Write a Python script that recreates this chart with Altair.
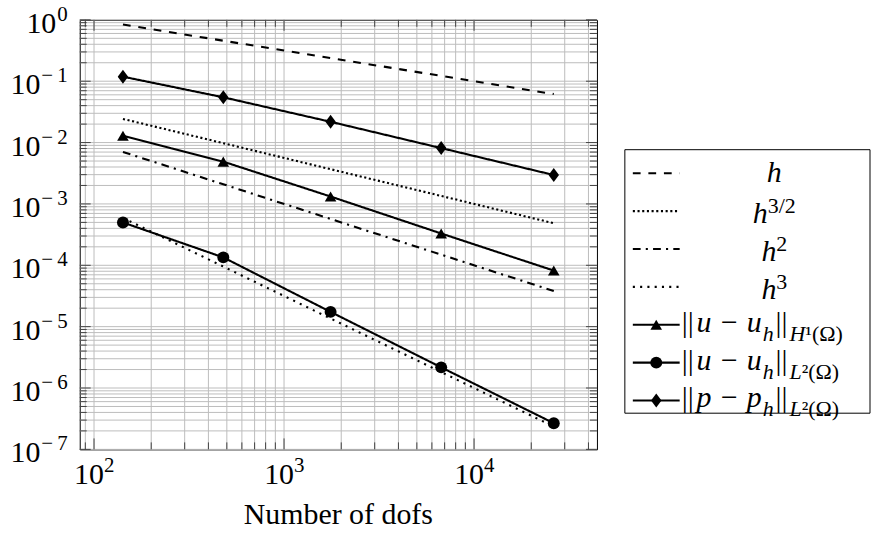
import altair as alt
import pandas as pd

# Degrees of freedom on each refinement level
dofs = [142, 479, 1758, 6714, 26270]

# Measured errors
err_u_h1 = [1.29e-2, 4.89e-3, 1.32e-3, 3.3e-4, 8.2e-5]
err_u_l2 = [4.99e-4, 1.345e-4, 1.74e-5, 2.17e-6, 2.67e-7]
err_p_l2 = [1.186e-1, 5.47e-2, 2.18e-2, 8.13e-3, 2.96e-3]

# Reference convergence rates
ref_h = [0.839, 0.457, 0.2385, 0.122, 0.0617]
ref_h32 = [2.43e-2, 9.77e-3, 3.68e-3, 1.35e-3, 4.84e-4]
ref_h2 = [7.04e-3, 2.09e-3, 5.69e-4, 1.49e-4, 3.81e-5]
ref_h3 = [5.91e-4, 9.54e-5, 1.357e-5, 1.82e-6, 2.35e-7]

# Tick labels
x_decades = [100, 1000, 10000]
x_exponents = ["2", "3", "4"]
y_decades = [1.0, 1e-1, 1e-2, 1e-3, 1e-4, 1e-5, 1e-6, 1e-7]
y_exponents = ["0", "−\u20091", "−\u20092", "−\u20093", "−\u20094",
               "−\u20095", "−\u20096", "−\u20097"]
x_title = "Number of dofs"

SERIES = ["h", "h32", "h2", "h3", "uH1", "uL2", "pL2"]
VALUES = [ref_h, ref_h32, ref_h2, ref_h3, err_u_h1, err_u_l2, err_p_l2]
DASHES = [[7.8, 7.8], [2.1, 2.6], [7.8, 5.2, 2.1, 5.2], [2.1, 5.2],
          [1, 0], [1, 0], [1, 0]]

W, H = 519, 431
LW, LH = 246, 431
FONT = "Liberation Serif, DejaVu Serif, serif"
FS, FS_SUB = 30, 22
GRID = "#bdbdbd"
LINE_W = 2.1
DIAMOND = "M0,-1L0.75,0L0,1L-0.75,0Z"

rows = []
for name, vals in zip(SERIES, VALUES):
    for d, v in zip(dofs, vals):
        rows.append({"series": name, "dofs": d, "value": v})
df = pd.DataFrame(rows)

xs = alt.Scale(type="log", domain=[84.1, 44330], nice=False)
ys = alt.Scale(type="log", domain=[1e-7, 1.0], nice=False)
dash_scale = alt.Scale(domain=SERIES, range=DASHES)

x_grid = [k * 10 ** e for e in range(1, 5) for k in range(1, 10)
          if 84.1 <= k * 10 ** e <= 44330]
y_grid = [k * 10.0 ** e for e in range(-7, 1) for k in range(1, 10)
          if k * 10.0 ** e <= 1.0001]


def X(field):
    return alt.X(field, type="quantitative", scale=xs, axis=None)


def Y(field):
    return alt.Y(field, type="quantitative", scale=ys, axis=None)


# ---- log grid (major and minor lines) ----
gx = alt.Chart(pd.DataFrame({"v": x_grid})).mark_rule(
    color=GRID, strokeWidth=1).encode(x=X("v"), y=alt.value(0), y2=alt.value(H))
gy = alt.Chart(pd.DataFrame({"v": y_grid})).mark_rule(
    color=GRID, strokeWidth=1).encode(y=Y("v"), x=alt.value(0), x2=alt.value(W))

# ---- inward tick marks on all four sides ----
x_major = pd.DataFrame({"v": x_decades})
x_minor = pd.DataFrame({"v": [v for v in x_grid if v not in x_decades]})
y_major = pd.DataFrame({"v": y_decades})
y_minor = pd.DataFrame({"v": [v for v in y_grid
                              if all(abs(v - d) > d * 1e-6 for d in y_decades)]})


def x_ticks(data, length):
    base = alt.Chart(data).mark_rule(color="#333", strokeWidth=0.9)
    return [base.encode(x=X("v"), y=alt.value(H), y2=alt.value(H - length)),
            base.encode(x=X("v"), y=alt.value(0), y2=alt.value(length))]


def y_ticks(data, length):
    base = alt.Chart(data).mark_rule(color="#333", strokeWidth=0.9)
    return [base.encode(y=Y("v"), x=alt.value(0), x2=alt.value(length)),
            base.encode(y=Y("v"), x=alt.value(W), x2=alt.value(W - length))]


ticks = (x_ticks(x_major, 11) + x_ticks(x_minor, 7)
         + y_ticks(y_major, 11) + y_ticks(y_minor, 7))

lines = alt.Chart(df).mark_line(color="black", strokeWidth=LINE_W,
                                strokeCap="butt").encode(
    x=X("dofs"), y=Y("value"),
    detail="series:N",
    strokeDash=alt.StrokeDash("series:N", scale=dash_scale, legend=None),
)


def markers(name, shape, size):
    return alt.Chart(df[df.series == name]).mark_point(
        shape=shape, size=size, filled=True, color="black", opacity=1
    ).encode(x=X("dofs"), y=Y("value"))


marks = [markers("uH1", "triangle-up", 135),
         markers("uL2", "circle", 144),
         markers("pL2", DIAMOND, 196)]

# ---- tick labels 10^k and axis title ----
xl = pd.DataFrame({"v": x_decades, "base": ["10"] * 3, "exp": x_exponents})
x_labels = [
    alt.Chart(xl).mark_text(align="right", baseline="alphabetic", dx=10,
                            font=FONT, fontSize=FS, color="black").encode(
        x=X("v"), y=alt.value(H + 35), text="base:N"),
    alt.Chart(xl).mark_text(align="left", baseline="alphabetic", dx=10,
                            font=FONT, fontSize=FS_SUB - 1, color="black").encode(
        x=X("v"), y=alt.value(H + 23), text="exp:N"),
]

yl = pd.DataFrame({"v": y_decades, "base": ["10"] * 8, "exp": y_exponents})
y_labels = []
for part, base_right in [(yl.iloc[:1], -23.5), (yl.iloc[1:], -39.5)]:
    y_labels.append(
        alt.Chart(part).mark_text(align="right", baseline="alphabetic", dy=13,
                                  font=FONT, fontSize=FS, color="black").encode(
            x=alt.value(base_right), y=Y("v"), text="base:N"))
    y_labels.append(
        alt.Chart(part).mark_text(align="right", baseline="alphabetic", dy=1,
                                  font=FONT, fontSize=FS_SUB - 1,
                                  color="black").encode(
            x=alt.value(-12), y=Y("v"), text="exp:N"))

title = alt.Chart(pd.DataFrame({"t": [x_title]})).mark_text(
    align="center", baseline="alphabetic", font=FONT, fontSize=FS,
    color="black").encode(x=alt.value(W / 2), y=alt.value(H + 75), text="t:N")

main = alt.layer(gx, gy, *ticks, lines, *marks, *x_labels, *y_labels,
                 title).properties(
    width=W, height=H, view=alt.ViewBackground(stroke="black", strokeWidth=1))

# ---- legend ----
ly = alt.Scale(domain=[-4.05, 7.29], reverse=True, nice=False, zero=False)
leg = pd.DataFrame({"row": list(range(7)), "series": SERIES})


def LY():
    return alt.Y("row:Q", scale=ly, axis=None)


box = alt.Chart(pd.DataFrame({"k": [0]})).mark_rect(
    fill="white", stroke="black", strokeWidth=1).encode(
    x=alt.value(0), x2=alt.value(LW), y=alt.value(130.3), y2=alt.value(394.7))

leg_lines = alt.Chart(leg).mark_rule(color="black", strokeWidth=LINE_W,
                                     strokeCap="butt").encode(
    x=alt.value(8), x2=alt.value(55), y=LY(),
    strokeDash=alt.StrokeDash("series:N", scale=dash_scale, legend=None))


def leg_marker(name, shape, size):
    return alt.Chart(leg[leg.series == name]).mark_point(
        shape=shape, size=size, filled=True, color="black", opacity=1
    ).encode(x=alt.value(31.5), y=LY())


leg_marks = [leg_marker("uH1", "triangle-up", 135),
             leg_marker("uL2", "circle", 144),
             leg_marker("pL2", DIAMOND, 196)]

REG = {"|": .2, "(": .333, ")": .333, "¹": .3, "²": .3, "Ω": .768,
       " ": .25, "−": .564, "/": .278}
ITA = {"u": .5, "h": .5, "p": .5, "H": .722, "L": .556, " ": .25, "−": .675}


def text_width(txt, size, italic):
    table = ITA if italic else REG
    return sum(table.get(c, .5) for c in txt) * size


def text_run(row, pieces, x0):
    out = []
    x = x0
    for txt, size, italic, dy, gap in pieces:
        out.append(
            alt.Chart(pd.DataFrame({"row": [row], "t": [txt]})).mark_text(
                align="left", baseline="alphabetic", font=FONT, fontSize=size,
                fontStyle="italic" if italic else "normal", dy=dy,
                color="black").encode(x=alt.value(x), y=LY(), text="t:N"))
        x += text_width(txt, size, italic) + gap
    return out


def centered(row, pieces, center=150):
    total = sum(text_width(t, s, i) + g for t, s, i, _, g in pieces)
    return text_run(row, pieces, center - total / 2)


def norm(row, var, space_letter, space_rest):
    return text_run(row, [
        ("||", FS, False, 7, 3),
        (f"{var} − {var}", FS, True, 7, 1),
        ("h", FS_SUB, True, 16, 2),
        ("||", FS, False, 7, 2),
        (space_letter, FS_SUB, True, 16, 0),
        (space_rest, FS_SUB, False, 16, 0),
    ], 57)


leg_text = (
    centered(0, [("h", FS, True, 9, 0)])
    + centered(1, [("h", FS, True, 12, 0), ("3/2", FS_SUB, False, 2, 0)])
    + centered(2, [("h", FS, True, 12, 0), ("2", FS_SUB, False, 2, 0)])
    + centered(3, [("h", FS, True, 12, 0), ("3", FS_SUB, False, 2, 0)])
    + norm(4, "u", "H", "¹(Ω)")
    + norm(5, "u", "L", "²(Ω)")
    + norm(6, "p", "L", "²(Ω)")
)

legend = alt.layer(box, leg_lines, *leg_marks, *leg_text).properties(
    width=LW, height=LH)

chart = alt.hconcat(main, legend, spacing=26).properties(
    padding={"left": 10, "top": 2, "right": 2, "bottom": 2},
    background="white",
).configure_view(stroke="transparent")

chart.save("out.html", embed_options={"renderer": "svg", "actions": False})
